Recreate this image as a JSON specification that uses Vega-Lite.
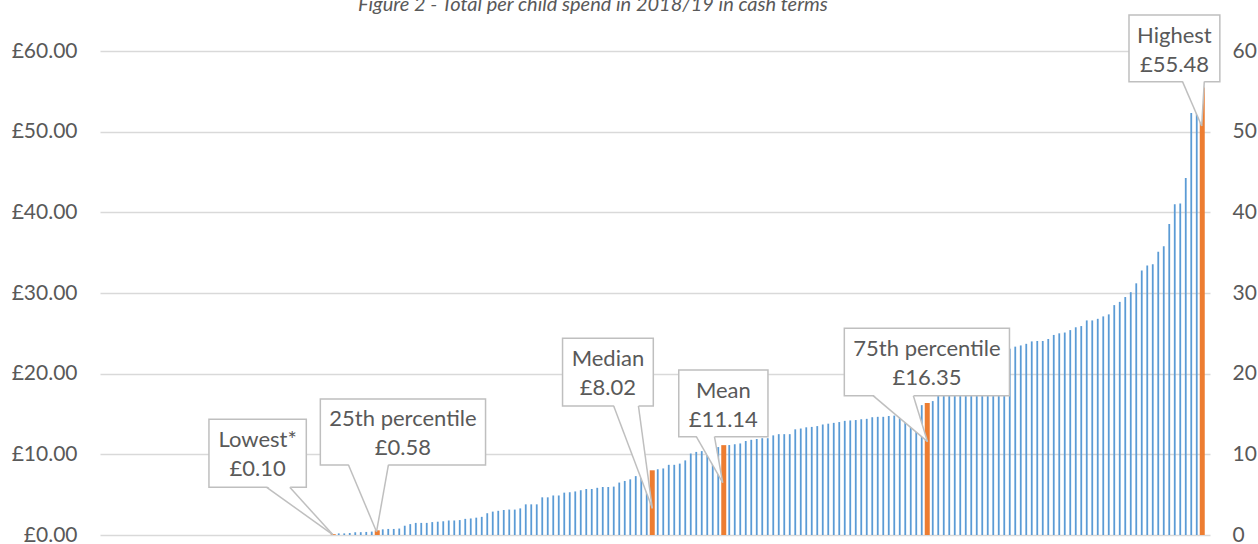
{
  "$schema": "https://vega.github.io/schema/vega-lite/v6.json",
  "autosize": {"type": "none"},
  "width": 1110,
  "height": 484,
  "padding": {"left": 100, "top": 51, "right": 48, "bottom": 9},
  "background": "white",
  "title": {"text": "Figure 2 - Total per child spend in 2018/19 in cash terms", "font": "Lato", "fontStyle": "italic", "fontWeight": "normal", "fontSize": 20, "color": "#595959", "anchor": "start", "frame": "group", "dx": 258, "dy": 19, "baseline": "alphabetic", "offset": 2},
  "config": {"view": {"stroke": null}, "text": {"font": "Lato"}},
  "datasets": {
    "spend": [
      {"rank":1,"spend":0},{"rank":2,"spend":0},{"rank":3,"spend":0},{"rank":4,"spend":0},{"rank":5,"spend":0},{"rank":6,"spend":0},{"rank":7,"spend":0},{"rank":8,"spend":0},{"rank":9,"spend":0},{"rank":10,"spend":0},
      {"rank":11,"spend":0},{"rank":12,"spend":0},{"rank":13,"spend":0},{"rank":14,"spend":0},{"rank":15,"spend":0},{"rank":16,"spend":0},{"rank":17,"spend":0},{"rank":18,"spend":0},{"rank":19,"spend":0},{"rank":20,"spend":0},
      {"rank":21,"spend":0},{"rank":22,"spend":0},{"rank":23,"spend":0},{"rank":24,"spend":0},{"rank":25,"spend":0},{"rank":26,"spend":0},{"rank":27,"spend":0},{"rank":28,"spend":0},{"rank":29,"spend":0},{"rank":30,"spend":0},
      {"rank":31,"spend":0},{"rank":32,"spend":0},{"rank":33,"spend":0},{"rank":34,"spend":0},{"rank":35,"spend":0},{"rank":36,"spend":0},{"rank":37,"spend":0},{"rank":38,"spend":0},{"rank":39,"spend":0},{"rank":40,"spend":0},
      {"rank":41,"spend":0},{"rank":42,"spend":0.10,"marker":"Lowest"},{"rank":43,"spend":0.2},{"rank":44,"spend":0.2},{"rank":45,"spend":0.25},{"rank":46,"spend":0.33},{"rank":47,"spend":0.35},{"rank":48,"spend":0.38},{"rank":49,"spend":0.42},{"rank":50,"spend":0.58,"marker":"25th percentile"},
      {"rank":51,"spend":0.7},{"rank":52,"spend":0.75},{"rank":53,"spend":0.75},{"rank":54,"spend":0.8},{"rank":55,"spend":1.15},{"rank":56,"spend":1.35},{"rank":57,"spend":1.5},{"rank":58,"spend":1.5},{"rank":59,"spend":1.5},{"rank":60,"spend":1.6},
      {"rank":61,"spend":1.65},{"rank":62,"spend":1.7},{"rank":63,"spend":1.8},{"rank":64,"spend":1.8},{"rank":65,"spend":1.85},{"rank":66,"spend":2.0},{"rank":67,"spend":2.05},{"rank":68,"spend":2.15},{"rank":69,"spend":2.25},{"rank":70,"spend":2.7},
      {"rank":71,"spend":2.9},{"rank":72,"spend":3.0},{"rank":73,"spend":3.1},{"rank":74,"spend":3.15},{"rank":75,"spend":3.15},{"rank":76,"spend":3.3},{"rank":77,"spend":3.8},{"rank":78,"spend":3.8},{"rank":79,"spend":3.8},{"rank":80,"spend":4.67},
      {"rank":81,"spend":4.67},{"rank":82,"spend":4.9},{"rank":83,"spend":4.9},{"rank":84,"spend":5.25},{"rank":85,"spend":5.3},{"rank":86,"spend":5.4},{"rank":87,"spend":5.55},{"rank":88,"spend":5.7},{"rank":89,"spend":5.7},{"rank":90,"spend":5.85},
      {"rank":91,"spend":5.95},{"rank":92,"spend":5.95},{"rank":93,"spend":6.0},{"rank":94,"spend":6.5},{"rank":95,"spend":6.7},{"rank":96,"spend":6.9},{"rank":97,"spend":7.3},{"rank":98,"spend":7.6},{"rank":99,"spend":7.8},{"rank":100,"spend":8.02,"marker":"Median"},
      {"rank":101,"spend":8.15},{"rank":102,"spend":8.25},{"rank":103,"spend":8.7},{"rank":104,"spend":8.7},{"rank":105,"spend":8.85},{"rank":106,"spend":9.25},{"rank":107,"spend":10.1},{"rank":108,"spend":10.3},{"rank":109,"spend":10.4},{"rank":110,"spend":10.5},
      {"rank":111,"spend":10.6},{"rank":112,"spend":10.9},{"rank":113,"spend":11.14,"marker":"Mean"},{"rank":114,"spend":11.15},{"rank":115,"spend":11.25},{"rank":116,"spend":11.35},{"rank":117,"spend":11.65},{"rank":118,"spend":11.8},{"rank":119,"spend":11.9},{"rank":120,"spend":12.0},
      {"rank":121,"spend":12.0},{"rank":122,"spend":12.35},{"rank":123,"spend":12.5},{"rank":124,"spend":12.5},{"rank":125,"spend":12.5},{"rank":126,"spend":13.1},{"rank":127,"spend":13.2},{"rank":128,"spend":13.35},{"rank":129,"spend":13.4},{"rank":130,"spend":13.5},
      {"rank":131,"spend":13.7},{"rank":132,"spend":13.8},{"rank":133,"spend":13.9},{"rank":134,"spend":14.0},{"rank":135,"spend":14.15},{"rank":136,"spend":14.2},{"rank":137,"spend":14.25},{"rank":138,"spend":14.35},{"rank":139,"spend":14.4},{"rank":140,"spend":14.6},
      {"rank":141,"spend":14.65},{"rank":142,"spend":14.65},{"rank":143,"spend":14.75},{"rank":144,"spend":14.8},{"rank":145,"spend":14.9},{"rank":146,"spend":15.0},{"rank":147,"spend":15.2},{"rank":148,"spend":15.5},{"rank":149,"spend":16.1},{"rank":150,"spend":16.35,"marker":"75th percentile"},
      {"rank":151,"spend":16.6},{"rank":152,"spend":17.4},{"rank":153,"spend":17.8},{"rank":154,"spend":18.2},{"rank":155,"spend":18.6},{"rank":156,"spend":19.0},{"rank":157,"spend":19.4},{"rank":158,"spend":19.8},{"rank":159,"spend":20.3},{"rank":160,"spend":20.7},
      {"rank":161,"spend":21.2},{"rank":162,"spend":21.6},{"rank":163,"spend":22.1},{"rank":164,"spend":22.6},{"rank":165,"spend":23.1},{"rank":166,"spend":23.35},{"rank":167,"spend":23.5},{"rank":168,"spend":23.7},{"rank":169,"spend":24.0},{"rank":170,"spend":24.05},
      {"rank":171,"spend":24.05},{"rank":172,"spend":24.3},{"rank":173,"spend":24.8},{"rank":174,"spend":25.0},{"rank":175,"spend":25.1},{"rank":176,"spend":25.4},{"rank":177,"spend":25.75},{"rank":178,"spend":25.9},{"rank":179,"spend":26.6},{"rank":180,"spend":26.6},
      {"rank":181,"spend":26.8},{"rank":182,"spend":27.1},{"rank":183,"spend":27.35},{"rank":184,"spend":28.5},{"rank":185,"spend":28.9},{"rank":186,"spend":29.5},{"rank":187,"spend":30.1},{"rank":188,"spend":31.2},{"rank":189,"spend":32.8},{"rank":190,"spend":33.4},
      {"rank":191,"spend":33.55},{"rank":192,"spend":35.1},{"rank":193,"spend":35.8},{"rank":194,"spend":38.55},{"rank":195,"spend":41.0},{"rank":196,"spend":41.1},{"rank":197,"spend":44.25},{"rank":198,"spend":52.3},{"rank":199,"spend":52.35},{"rank":200,"spend":55.48,"marker":"Highest"}
    ],
    "callouts": [
      {"name":"Lowest*","amount":"£0.10","bx1":19.4,"bx2":37.1,"cx":28.25,"by1":5.91,"by2":14.34,"wl":29.9,"wr":34.1,"tx":41.9,"ty":0.05},
      {"name":"25th percentile","amount":"£0.58","bx1":39.65,"bx2":69.69,"cx":54.67,"by1":8.68,"by2":16.86,"wl":44.77,"wr":52.03,"tx":49.87,"ty":0.41},
      {"name":"Median","amount":"£8.02","bx1":83.69,"bx2":100.19,"cx":91.94,"by1":15.99,"by2":24.38,"wl":92.99,"wr":97.49,"tx":100.01,"ty":3.31},
      {"name":"Mean","amount":"£11.14","bx1":104.82,"bx2":121.04,"cx":112.93,"by1":12.19,"by2":20.45,"wl":108.01,"wr":111.31,"tx":112.81,"ty":6.48},
      {"name":"75th percentile","amount":"£16.35","bx1":134.92,"bx2":164.95,"cx":149.94,"by1":17.27,"by2":25.62,"wl":140.14,"wr":147.47,"tx":150.05,"ty":11.57},
      {"name":"Highest","amount":"£55.48","bx1":186.68,"bx2":203.2,"cx":194.94,"by1":56.2,"by2":64.46,"wl":196.41,"wr":200.37,"tx":199.9,"ty":50.7}
    ],
    "wedges": [
      {"name":"Lowest*","wy":6.06,"xa":29.9,"xb":34.1},{"name":"Lowest*","wy":0.05,"xa":41.9,"xb":41.9},
      {"name":"25th percentile","wy":8.83,"xa":44.77,"xb":52.03},{"name":"25th percentile","wy":0.41,"xa":49.87,"xb":49.87},
      {"name":"Median","wy":16.14,"xa":92.99,"xb":97.49},{"name":"Median","wy":3.31,"xa":100.01,"xb":100.01},
      {"name":"Mean","wy":12.34,"xa":108.01,"xb":111.31},{"name":"Mean","wy":6.48,"xa":112.81,"xb":112.81},
      {"name":"75th percentile","wy":17.42,"xa":140.14,"xb":147.47},{"name":"75th percentile","wy":11.57,"xa":150.05,"xb":150.05},
      {"name":"Highest","wy":56.35,"xa":196.41,"xb":200.37},{"name":"Highest","wy":50.7,"xa":199.9,"xb":199.9}
    ]
  },
  "resolve": {"axis": {"y": "independent"}},
  "layer": [
    {
      "data": {"name": "spend"},
      "transform": [{"filter": "!datum.marker"}],
      "mark": {"type": "bar", "size": 1.8, "color": "#5b9bd5"},
      "encoding": {
        "x": {"field": "rank", "type": "quantitative", "scale": {"domain": [0.5, 200.5], "nice": false, "zero": false}, "axis": null},
        "y": {"field": "spend", "type": "quantitative", "scale": {"domain": [0, 60], "nice": false}, "axis": {"orient": "left", "values": [0, 10, 20, 30, 40, 50, 60], "labelExpr": "'£' + format(datum.value, '.2f')", "grid": true, "gridColor": "#d9d9d9", "gridWidth": 1.3, "domain": false, "ticks": false, "labelPadding": 23, "labelFont": "Lato", "labelFontSize": 21, "labelColor": "#595959", "title": null}}
      }
    },
    {
      "data": {"name": "spend"},
      "transform": [{"filter": "datum.marker"}],
      "mark": {"type": "bar", "size": 5, "color": "#ed7d31"},
      "encoding": {
        "x": {"field": "rank", "type": "quantitative", "axis": null},
        "y": {"field": "spend", "type": "quantitative", "axis": {"orient": "right", "values": [0, 10, 20, 30, 40, 50, 60], "format": "d", "grid": false, "domain": false, "ticks": false, "labelPadding": 22, "labelFont": "Lato", "labelFontSize": 21, "labelColor": "#595959", "title": null}}
      }
    },
    {
      "data": {"name": "callouts"},
      "mark": {"type": "rect", "fill": "white", "stroke": "#bfbfbf", "strokeWidth": 1.5},
      "encoding": {
        "x": {"field": "bx1", "type": "quantitative", "axis": null},
        "x2": {"field": "bx2"},
        "y": {"field": "by1", "type": "quantitative", "axis": null},
        "y2": {"field": "by2"}
      }
    },
    {
      "data": {"name": "wedges"},
      "mark": {"type": "area", "orient": "horizontal", "fill": "white"},
      "encoding": {
        "y": {"field": "wy", "type": "quantitative", "axis": null},
        "x": {"field": "xa", "type": "quantitative", "axis": null},
        "x2": {"field": "xb"},
        "detail": {"field": "name"}
      }
    },
    {
      "data": {"name": "callouts"},
      "mark": {"type": "rule", "color": "#bfbfbf", "strokeWidth": 1.5},
      "encoding": {
        "x": {"field": "wl", "type": "quantitative", "axis": null},
        "x2": {"field": "tx"},
        "y": {"field": "by1", "type": "quantitative", "axis": null},
        "y2": {"field": "ty"}
      }
    },
    {
      "data": {"name": "callouts"},
      "mark": {"type": "rule", "color": "#bfbfbf", "strokeWidth": 1.5},
      "encoding": {
        "x": {"field": "wr", "type": "quantitative", "axis": null},
        "x2": {"field": "tx"},
        "y": {"field": "by1", "type": "quantitative", "axis": null},
        "y2": {"field": "ty"}
      }
    },
    {
      "data": {"name": "callouts"},
      "mark": {"type": "text", "font": "Lato", "fontSize": 22, "color": "#595959", "baseline": "middle", "align": "center", "dy": 20.5},
      "encoding": {
        "x": {"field": "cx", "type": "quantitative", "axis": null},
        "y": {"field": "by2", "type": "quantitative", "axis": null},
        "text": {"field": "name"}
      }
    },
    {
      "data": {"name": "callouts"},
      "mark": {"type": "text", "font": "Lato", "fontSize": 22, "color": "#595959", "baseline": "middle", "align": "center", "dy": 49.5},
      "encoding": {
        "x": {"field": "cx", "type": "quantitative", "axis": null},
        "y": {"field": "by2", "type": "quantitative", "axis": null},
        "text": {"field": "amount"}
      }
    }
  ]
}
